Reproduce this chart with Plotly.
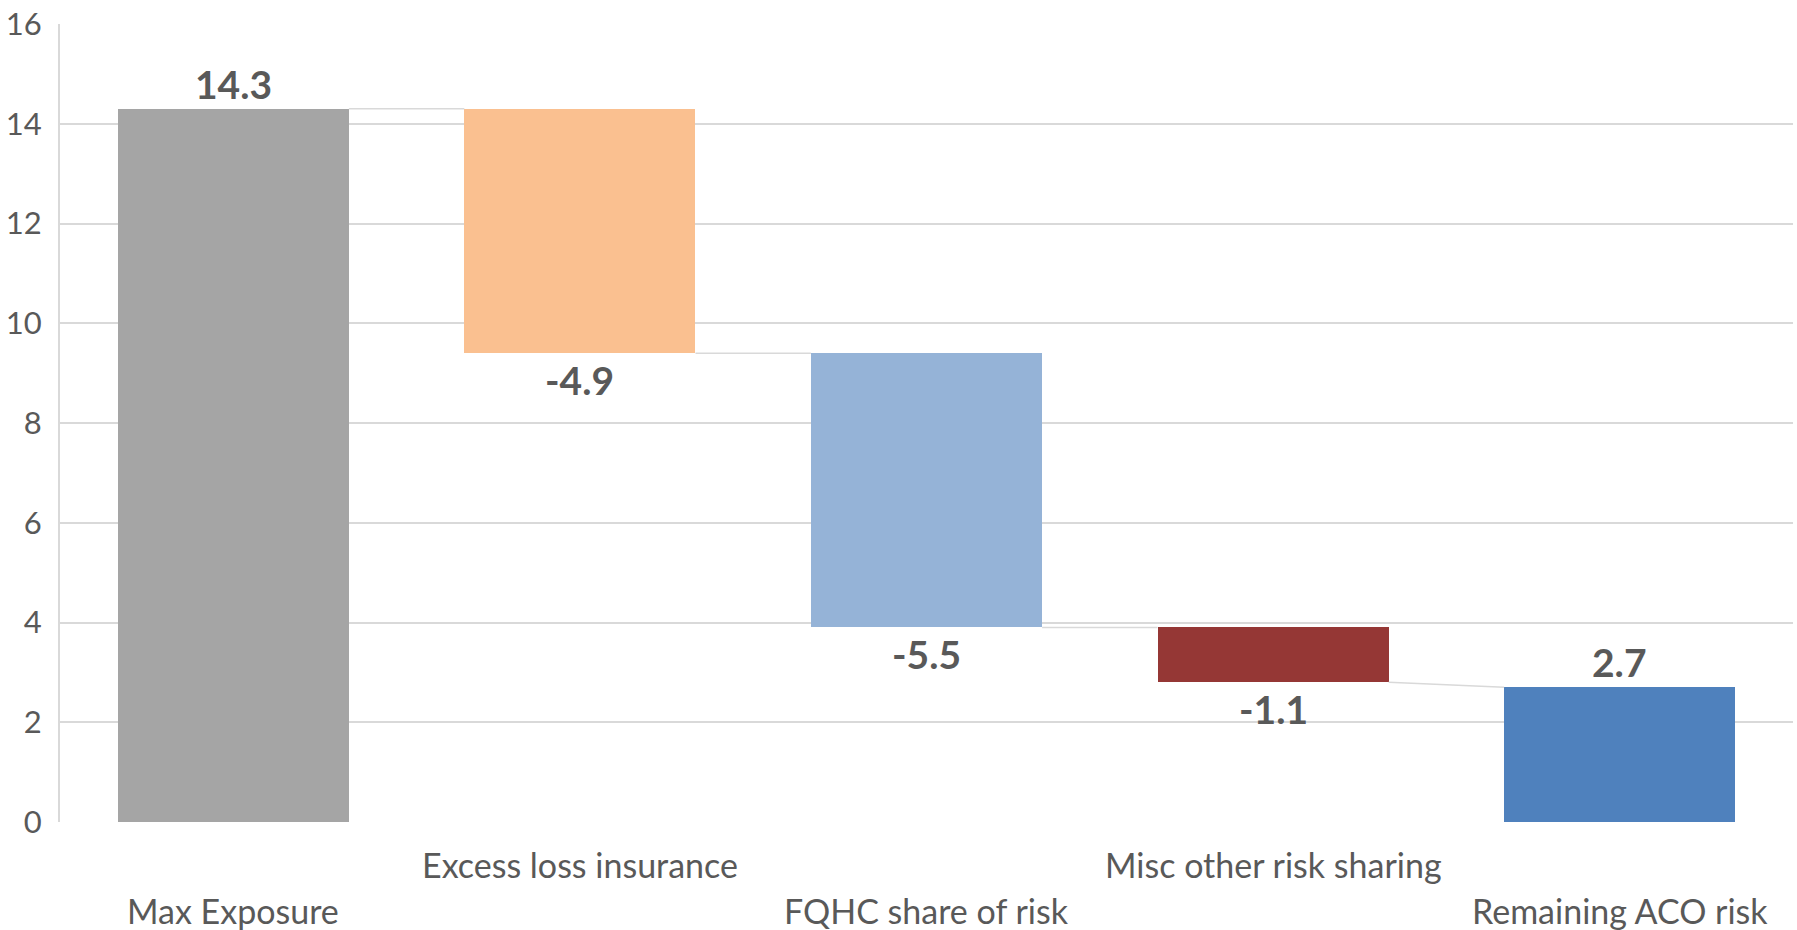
import plotly.graph_objects as go

categories = ["Max Exposure", "Excess loss insurance", "FQHC share of risk",
              "Misc other risk sharing", "Remaining ACO risk"]
values = [14.3, -4.9, -5.5, -1.1, 2.7]
is_total = [True, False, False, False, True]
colors = ["#a5a5a5", "#fac090", "#95b3d7", "#953735", "#4f81bd"]
label_row = [1, 0, 1, 0, 1]  # 0 = upper row, 1 = lower row
y_ticks = [0, 2, 4, 6, 8, 10, 12, 14, 16]

BAR_W = 0.667
TEXT = "#595959"
GRID = "#d9d9d9"
FONT = "Lato"

# compute bases / ends
bases, ends = [], []
level = 0.0
for v, tot in zip(values, is_total):
    if tot:
        bases.append(0.0)
        ends.append(v)
        level = v
    else:
        bases.append(level)
        level = level + v
        ends.append(level)

xs = list(range(len(categories)))

fig = go.Figure()

# connectors
for i in range(len(categories) - 1):
    y0 = ends[i]
    y1 = bases[i + 1] if not is_total[i + 1] else ends[i + 1]
    fig.add_trace(go.Scatter(
        x=[xs[i] + BAR_W / 2, xs[i + 1] - BAR_W / 2], y=[y0, y1],
        mode="lines", line=dict(color=GRID, width=1.5),
        hoverinfo="skip", showlegend=False))

fig.add_trace(go.Bar(
    x=xs, y=values, base=bases, width=BAR_W,
    marker=dict(color=colors, line=dict(width=0)),
    showlegend=False))

# data labels
for i, v in enumerate(values):
    up = v >= 0
    fig.add_annotation(
        x=xs[i], y=ends[i], xref="x", yref="y",
        text="<b>%.1f</b>" % v, showarrow=False,
        yanchor="bottom" if up else "top",
        yshift=0 if up else -2,
        font=dict(family=FONT, size=39, color=TEXT))

# category labels (staggered)
for i, c in enumerate(categories):
    fig.add_annotation(
        x=xs[i], y=0, xref="x", yref="paper", text=c, showarrow=False,
        yanchor="top", yshift=-20 - 46 * label_row[i],
        font=dict(family=FONT, size=34, color=TEXT))

fig.update_layout(
    width=1797, height=930,
    margin=dict(l=60, r=4, t=21, b=108),
    paper_bgcolor="white", plot_bgcolor="white",
    font=dict(family=FONT, color=TEXT),
    bargap=0,
)
fig.update_xaxes(range=[-0.5, len(categories) - 0.5], showticklabels=False,
                 showgrid=False, zeroline=False, showline=False, fixedrange=True)
fig.update_yaxes(range=[0, 16], tickvals=y_ticks, showgrid=True, gridcolor=GRID,
                 gridwidth=2, zeroline=False, showline=True, linecolor=GRID,
                 linewidth=2, tickfont=dict(family=FONT, size=31, color=TEXT),
                 ticks="outside", ticklen=10, tickcolor="rgba(0,0,0,0)",
                 ticklabeloverflow="allow", fixedrange=True)

fig.write_html("out.html", config={"displayModeBar": False},
               post_script="document.body.style.margin='0';")
